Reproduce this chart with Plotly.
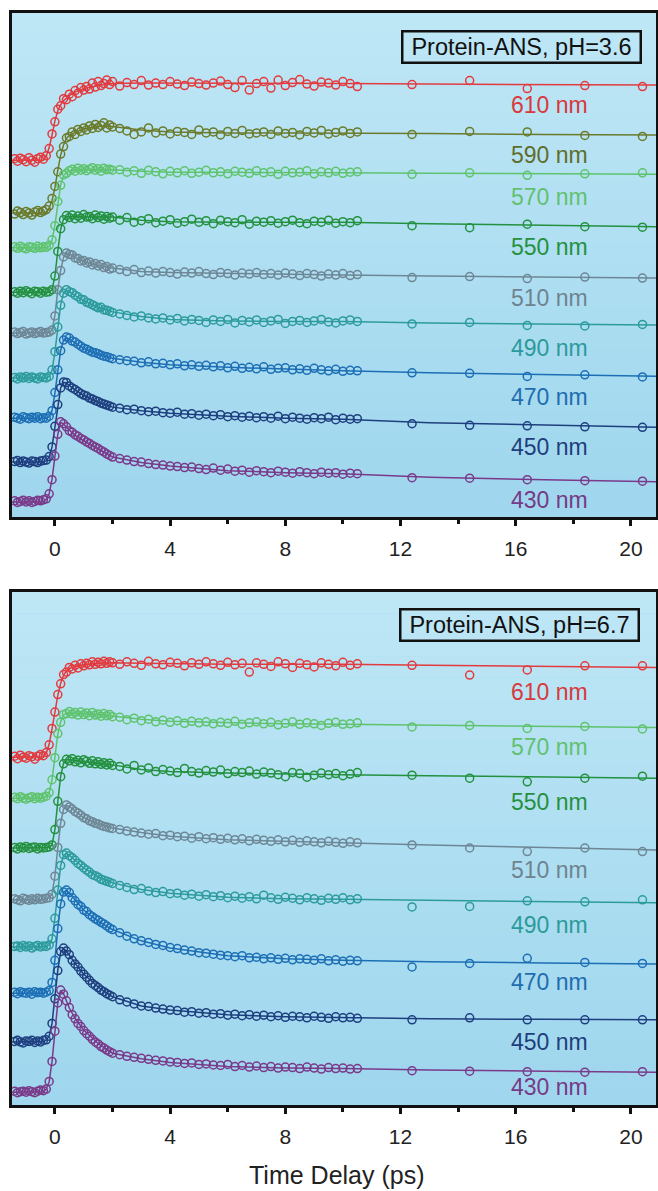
import plotly.graph_objects as go

# ---------------- data ----------------
TIME = [-1.4, -1.3, -1.2, -1.1, -1.0, -0.9, -0.8, -0.7, -0.6, -0.5, -0.4,
        -0.3, -0.2, -0.1, 0.0, 0.1, 0.2, 0.3, 0.4, 0.5, 0.6, 0.7, 0.8, 0.9, 1.0,
        1.1, 1.2, 1.3, 1.4, 1.5, 1.6, 1.7, 1.8, 1.9, 2.0,
        2.25, 2.5, 2.75, 3.0, 3.25, 3.5, 3.75, 4.0, 4.25, 4.5, 4.75, 5.0, 5.25,
        5.5, 5.75, 6.0, 6.25, 6.5, 6.75, 7.0, 7.25, 7.5, 7.75, 8.0, 8.25, 8.5,
        8.75, 9.0, 9.25, 9.5, 9.75, 10.0, 10.25, 10.5,
        12.4, 14.4, 16.4, 18.4, 20.4]

FIT_TIME = [-1.5, -0.4, -0.3, -0.2, -0.1, 0.0, 0.1, 0.2, 0.3, 0.4, 0.5, 0.7,
            1.0, 1.5, 2.0, 3.0, 4.0, 6.0, 8.0, 10.0, 13.0, 17.0, 21.0]

X_TICKS = [0, 4, 8, 12, 16, 20]
X_MINOR = [2, 6, 10, 14, 18]

TOP_LABELS = ["610 nm", "590 nm", "570 nm", "550 nm", "510 nm", "490 nm", "470 nm", "450 nm", "430 nm"]
BOT_LABELS = ["610 nm", "570 nm", "550 nm", "510 nm", "490 nm", "470 nm", "450 nm", "430 nm"]

TOP_OFFSETS = [70.8, 60.3, 53.4, 44.6, 36.5, 27.6, 19.6, 10.9, 3.0]
BOT_OFFSETS = [67.8, 59.8, 50.1, 40.0, 30.8, 21.8, 12.3, 2.5]

# ---- pH 3.6 measured transients (signal above baseline) ----
T610 = [0.3, -0.2, 0.4, 0.1, -0.3, 0.5, 0.0, -0.4, 0.3, 0.6, 0.2,
        0.9, 2.3, 5.2, 7.6, 10.1, 10.8, 12.2, 12.0, 13.1, 12.6, 13.8, 13.3, 14.4, 13.9, 14.6, 14.1, 15.3, 14.5, 15.6, 14.8, 15.2, 15.9, 15.0, 15.6,
        14.7, 15.4, 15.0, 15.8, 14.9, 15.3, 15.0, 15.6, 15.1, 14.8, 15.5, 15.2, 14.9, 15.3, 15.7, 15.0, 14.4, 15.8, 13.9, 15.2, 15.6, 14.3, 15.9, 14.8, 15.4, 16.0, 15.1, 14.7, 15.5, 15.3, 14.9, 15.6, 15.2, 14.6,
        15.0, 15.8, 14.2, 14.8, 14.6]
T590 = [-0.2, 0.4, 0.1, -0.3, 0.3, 0.0, -0.4, 0.2, 0.5, 0.1, 0.4,
        0.7, 1.4, 2.9, 5.3, 8.2, 11.7, 13.2, 14.9, 15.2, 16.1, 15.6, 16.6, 16.2, 16.9, 16.5, 17.3, 16.8, 17.6, 17.0, 17.4, 17.9, 16.9, 17.5, 17.1,
        16.8, 16.3, 15.6, 16.1, 16.9, 15.9, 16.3, 15.7, 16.2, 16.0, 15.6, 16.5, 15.9, 16.1, 15.5, 16.2, 15.8, 16.4, 15.7, 15.9, 16.1, 15.6, 16.3, 15.8, 16.0, 15.5, 16.2, 15.9, 16.4, 15.7, 16.0, 16.3, 15.8, 16.1,
        15.6, 16.2, 16.1, 15.4, 15.2]
T570 = [0.2, -0.1, 0.3, 0.0, -0.2, 0.2, 0.1, -0.1, 0.3, 0.0, 0.2,
        0.1, 0.5, 1.6, 4.4, 9.2, 12.4, 14.5, 14.8, 15.3, 15.6, 15.2, 15.8, 15.4, 15.7, 15.3, 15.6, 15.9, 15.4, 15.7, 15.2, 15.8, 15.5, 15.6, 15.4,
        15.5, 15.0, 15.3, 14.8, 15.4, 15.1, 14.7, 15.2, 14.9, 15.3, 14.8, 15.0, 15.4, 14.9, 15.1, 14.7, 15.2, 15.0, 14.8, 15.3, 14.9, 15.1, 14.6, 15.2, 14.9, 15.0, 15.3, 14.7, 15.1, 14.9, 15.2, 14.8, 15.0, 15.1,
        14.6, 14.9, 14.4, 14.7, 14.9]
T550 = [0.1, -0.2, 0.2, -0.1, 0.3, 0.0, -0.3, 0.2, 0.1, -0.2, 0.2,
        0.0, 0.1, 0.5, 3.2, 8.1, 12.6, 14.4, 15.2, 14.8, 15.3, 14.6, 15.1, 14.7, 15.4, 14.9, 15.0, 14.6, 15.3, 14.8, 15.1, 14.5, 15.0, 14.7, 14.9,
        14.3, 14.8, 13.9, 14.2, 14.6, 13.8, 14.1, 14.4, 13.7, 14.0, 14.5, 13.9, 14.2, 13.6, 14.3, 14.0, 13.8, 14.4, 13.5, 14.1, 13.9, 14.2, 13.7, 14.0, 14.3, 13.8, 13.6, 14.1, 13.9, 14.3, 13.7, 14.0, 13.8, 14.2,
        13.2, 12.8, 13.5, 13.0, 12.9]
T510 = [0.2, -0.1, 0.1, 0.3, -0.2, 0.0, 0.2, -0.1, 0.1, 0.3, 0.0,
        0.1, 0.2, 0.6, 3.4, 8.6, 12.4, 15.1, 15.9, 15.6, 15.5, 14.9, 14.8, 14.3, 14.4, 13.9, 14.1, 13.5, 13.8, 13.3, 13.6, 13.0, 13.2, 12.7, 12.9,
        12.6, 12.2, 12.6, 12.0, 12.3, 11.9, 12.2, 12.0, 11.7, 12.1, 11.9, 12.2, 11.8, 11.6, 12.0, 11.8, 11.5, 11.9, 11.7, 12.0, 11.6, 11.8, 11.5, 11.9, 11.7, 11.4, 11.8, 11.6, 11.3, 11.7, 11.5, 11.8, 11.4, 11.6,
        11.0, 11.2, 10.8, 11.1, 10.9]
T490 = [0.1, -0.2, 0.2, 0.0, 0.3, -0.1, 0.2, 0.0, -0.2, 0.2, 0.1,
        0.0, 0.3, 1.6, 5.2, 10.1, 14.4, 16.8, 17.5, 17.1, 16.9, 16.4, 16.1, 15.6, 15.5, 15.0, 14.8, 14.5, 14.2, 13.9, 14.0, 13.5, 13.4, 13.2, 13.0,
        12.7, 12.4, 12.1, 12.3, 11.9, 11.7, 11.9, 11.5, 11.8, 11.3, 11.6, 11.4, 11.0, 11.5, 11.2, 11.6, 10.9, 11.4, 11.1, 11.5, 11.0, 11.3, 11.6, 10.8, 11.2, 11.4, 11.0, 11.3, 11.6, 11.1, 10.9, 11.3, 11.5, 11.2,
        10.7, 11.0, 10.4, 10.3, 10.6]
T470 = [0.2, 0.0, -0.2, 0.3, 0.1, -0.1, 0.2, 0.0, 0.3, -0.1, 0.1,
        0.0, 0.4, 1.5, 5.1, 9.6, 13.4, 15.5, 16.1, 15.9, 15.3, 15.1, 14.7, 14.3, 13.9, 13.7, 13.4, 13.1, 13.0, 12.8, 12.5, 12.3, 12.2, 12.0, 11.8,
        11.6, 11.4, 11.3, 11.0, 11.2, 10.8, 10.9, 10.6, 10.8, 10.4, 10.6, 10.3, 10.5, 10.2, 10.4, 10.0, 10.3, 9.9, 10.1, 9.8, 10.2, 9.7, 9.9, 10.0, 9.6, 9.8, 9.5, 9.9, 9.6, 9.4, 9.7, 9.3, 9.5, 9.4,
        9.0, 8.9, 8.3, 8.6, 8.2]
T450 = [0.1, 0.3, -0.1, 0.2, 0.0, -0.2, 0.2, 0.1, -0.1, 0.2, 0.3,
        0.4, 1.1, 3.0, 7.1, 11.4, 14.7, 15.9, 15.8, 15.1, 14.7, 14.4, 14.0, 13.6, 13.3, 13.1, 12.7, 12.5, 12.2, 12.0, 11.7, 11.5, 11.3, 11.1, 10.9,
        10.7, 10.4, 10.5, 10.2, 10.0, 10.1, 9.8, 9.7, 9.9, 9.5, 9.6, 9.3, 9.5, 9.2, 9.4, 9.0, 9.2, 8.9, 9.1, 8.8, 9.0, 8.7, 9.1, 8.6, 8.9, 8.7, 8.5, 8.8, 8.6, 8.9, 8.4, 8.7, 8.5, 8.6,
        7.6, 7.3, 7.2, 7.0, 6.9]
T430 = [0.2, -0.1, 0.1, 0.3, 0.0, 0.2, -0.1, 0.1, 0.3, 0.2, 0.4,
        0.6, 1.6, 4.4, 9.1, 13.4, 15.9, 15.5, 14.9, 14.1, 13.8, 13.3, 13.0, 12.6, 12.3, 11.9, 11.6, 11.2, 10.9, 10.6, 10.2, 9.9, 9.5, 9.2, 8.9,
        8.6, 8.3, 8.0, 7.9, 7.6, 7.4, 7.3, 7.1, 7.0, 6.8, 6.9, 6.6, 6.4, 6.7, 6.3, 6.5, 6.1, 6.3, 5.9, 6.2, 6.0, 5.8, 6.1, 5.9, 5.7, 6.0, 5.8, 5.6, 5.9, 5.7, 5.8, 5.5, 5.7, 5.6,
        4.8, 4.7, 4.4, 4.2, 4.1]

# ---- pH 6.7 measured transients ----
B610 = [0.2, -0.3, 0.4, 0.0, -0.2, 0.3, 0.1, -0.4, 0.2, 0.5, 0.3,
        0.9, 2.4, 5.6, 8.8, 12.2, 14.3, 16.1, 16.6, 17.5, 17.2, 17.9, 17.4, 18.2, 17.8, 18.3, 18.0, 18.6, 18.1, 18.5, 18.2, 18.7, 18.3, 18.6, 18.4,
        18.1, 18.6, 18.3, 17.9, 18.7, 18.2, 18.0, 18.5, 18.3, 17.8, 18.4, 18.1, 18.6, 18.2, 17.9, 18.5, 18.0, 18.3, 16.6, 18.4, 18.1, 17.7, 18.6, 18.2, 17.5, 18.3, 18.0, 17.6, 18.4, 18.1, 17.8, 18.5, 17.9, 18.2,
        17.9, 16.0, 17.0, 17.8, 17.8]
B570 = [0.2, -0.1, 0.3, 0.0, -0.2, 0.1, 0.3, -0.1, 0.2, 0.0, 0.2,
        0.4, 1.1, 3.6, 7.9, 12.6, 14.8, 16.3, 16.5, 16.9, 16.4, 16.7, 16.2, 16.8, 16.3, 16.6, 16.1, 16.7, 16.2, 16.4, 16.0, 16.5, 16.1, 16.3, 15.9,
        15.8, 15.3, 15.6, 15.1, 15.4, 14.9, 15.2, 14.8, 15.1, 14.6, 15.0, 14.7, 14.9, 14.5, 14.8, 14.6, 15.0, 14.4, 14.7, 14.9, 14.5, 14.8, 14.3, 14.6, 14.9, 14.4, 14.7, 14.5, 14.2, 14.6, 14.8, 14.4, 14.5, 14.7,
        13.9, 14.2, 13.6, 14.0, 13.5]
B550 = [0.1, -0.2, 0.2, 0.0, 0.3, -0.1, 0.1, 0.2, -0.2, 0.1, 0.0,
        0.1, 0.2, 0.6, 3.6, 9.1, 13.9, 16.4, 17.3, 17.0, 17.4, 16.8, 17.1, 16.6, 17.2, 16.9, 16.5, 17.0, 16.4, 16.8, 16.3, 16.6, 16.2, 16.5, 16.1,
        15.9, 15.4, 16.1, 15.2, 15.6, 14.9, 15.3, 15.0, 14.7, 15.5, 14.9, 14.6, 15.1, 14.8, 15.2, 14.5, 14.9, 14.7, 15.0, 14.4, 14.8, 14.6, 14.3, 13.9, 14.7, 14.5, 13.8, 14.2, 14.6, 14.3, 14.5, 14.1, 14.4, 14.7,
        14.2, 13.6, 12.9, 13.6, 14.0]
B510 = [0.2, 0.0, -0.2, 0.3, 0.1, -0.1, 0.2, 0.0, 0.3, 0.1, 0.2,
        0.3, 0.4, 1.1, 4.6, 10.2, 14.9, 17.6, 18.5, 18.1, 17.7, 17.2, 16.9, 16.5, 16.0, 15.8, 15.4, 15.2, 14.9, 14.8, 14.5, 14.3, 14.2, 14.0, 13.9,
        13.7, 13.4, 13.2, 13.0, 12.8, 12.9, 12.5, 12.6, 12.3, 12.4, 12.0, 12.3, 11.9, 12.1, 11.8, 12.0, 11.7, 11.9, 11.5, 11.8, 11.6, 11.4, 11.7, 11.3, 11.6, 11.2, 11.5, 11.3, 11.1, 11.4, 11.2, 11.0, 11.3, 11.1,
        10.7, 10.1, 9.4, 10.1, 9.4]
B490 = [0.1, 0.2, -0.1, 0.3, 0.0, 0.2, -0.2, 0.1, 0.3, 0.0, 0.2,
        0.1, 0.4, 1.6, 5.6, 11.1, 15.9, 18.0, 18.3, 17.8, 17.4, 16.9, 16.3, 15.9, 15.4, 15.0, 14.6, 14.1, 13.9, 13.6, 13.2, 13.0, 12.8, 12.6, 12.4,
        12.0, 11.6, 11.2, 11.4, 10.9, 10.6, 10.8, 10.4, 10.5, 10.1, 10.3, 9.9, 10.2, 9.8, 10.0, 9.6, 9.9, 9.5, 9.8, 9.4, 10.1, 9.6, 9.3, 9.7, 9.5, 9.2, 9.6, 9.4, 9.1, 9.5, 9.3, 9.6, 9.2, 9.4,
        7.8, 7.9, 9.0, 8.8, 9.2]
B470 = [0.2, -0.1, 0.3, 0.1, 0.0, 0.2, -0.2, 0.3, 0.1, 0.2, 0.0,
        0.2, 0.5, 2.1, 6.4, 12.6, 17.4, 19.7, 20.1, 19.6, 18.6, 18.0, 17.3, 16.9, 16.2, 15.9, 15.3, 14.9, 14.5, 14.2, 13.8, 13.5, 13.1, 12.7, 12.4,
        11.8, 11.1, 10.6, 10.2, 9.9, 9.5, 9.3, 8.9, 8.7, 8.4, 8.2, 7.9, 7.8, 7.6, 7.4, 7.3, 7.1, 7.3, 6.9, 7.0, 6.7, 6.9, 6.6, 6.8, 6.5, 6.7, 6.6, 6.4, 6.7, 6.3, 6.5, 6.2, 6.4, 6.3,
        5.1, 5.8, 6.8, 6.0, 5.8]
B450 = [0.1, 0.3, 0.0, -0.2, 0.2, 0.1, 0.3, -0.1, 0.2, 0.0, 0.3,
        0.4, 1.1, 3.6, 8.4, 13.9, 17.6, 18.3, 17.7, 17.0, 15.9, 15.2, 14.6, 13.8, 13.2, 12.6, 12.0, 11.4, 11.0, 10.6, 10.1, 9.8, 9.4, 9.1, 8.8,
        8.2, 7.8, 7.4, 7.0, 6.9, 6.6, 6.4, 6.2, 6.1, 5.8, 5.9, 5.6, 5.7, 5.4, 5.5, 5.2, 5.4, 5.1, 5.3, 5.0, 5.2, 4.9, 5.1, 4.8, 5.0, 4.9, 4.7, 5.0, 4.8, 4.6, 4.9, 4.7, 4.8, 4.6,
        4.3, 4.7, 4.3, 4.3, 4.3]
B430 = [0.2, -0.1, 0.1, 0.2, 0.0, 0.3, 0.1, -0.1, 0.2, 0.4, 0.3,
        0.6, 2.1, 6.0, 11.9, 17.4, 19.9, 19.1, 17.8, 16.5, 15.1, 14.3, 13.4, 12.8, 12.0, 11.4, 10.9, 10.3, 9.8, 9.4, 8.9, 8.6, 8.2, 7.9, 7.6,
        7.3, 7.0, 6.8, 6.6, 6.4, 6.2, 6.1, 5.9, 5.8, 5.6, 5.7, 5.4, 5.5, 5.3, 5.2, 5.4, 5.0, 5.2, 4.9, 5.1, 4.8, 5.0, 4.7, 4.9, 4.8, 4.6, 4.9, 4.7, 4.5, 4.8, 4.6, 4.7, 4.5, 4.6,
        4.2, 4.1, 4.0, 3.9, 4.0]

# ---- fitted curves (on FIT_TIME) ----
FIT_T610 = [0, 0, 0.8, 2.5, 5.0, 7.8, 9.8, 11.0, 11.8, 12.4, 12.8, 13.5, 14.2, 14.8, 15.2, 15.3, 15.3, 15.3, 15.2, 15.2, 15.1, 15.0, 14.9]
FIT_T590 = [0, 0, 0.2, 1.0, 2.5, 5.0, 8.5, 11.5, 13.5, 14.8, 15.4, 16.0, 16.7, 17.2, 17.2, 16.5, 16.1, 15.9, 15.9, 15.9, 15.8, 15.6, 15.5]
FIT_T570 = [0, 0, 0, 0.3, 1.5, 4.5, 9.0, 12.5, 14.3, 15.0, 15.3, 15.5, 15.5, 15.5, 15.5, 15.2, 15.0, 15.0, 15.0, 14.9, 14.8, 14.7, 14.6]
FIT_T550 = [0, 0, 0, 0, 0.5, 3.2, 8.2, 12.5, 14.5, 15.0, 15.0, 14.9, 14.9, 14.9, 14.9, 14.3, 14.0, 13.9, 13.9, 13.9, 13.6, 13.3, 13.0]
FIT_T510 = [0, 0, 0, 0.1, 0.6, 3.5, 8.5, 12.5, 15.0, 15.9, 15.7, 15.0, 14.2, 13.4, 12.9, 12.2, 12.0, 11.8, 11.6, 11.5, 11.3, 11.1, 10.9]
FIT_T490 = [0, 0, 0, 0.3, 1.5, 5.1, 10.0, 14.5, 16.9, 17.4, 17.1, 16.3, 15.3, 14.0, 13.1, 12.2, 11.6, 11.3, 11.2, 11.2, 10.9, 10.7, 10.5]
FIT_T470 = [0, 0, 0, 0.3, 1.5, 5.0, 9.5, 13.5, 15.5, 16.0, 15.7, 14.9, 13.8, 12.7, 11.9, 11.1, 10.6, 10.1, 9.7, 9.4, 9.0, 8.6, 8.3]
FIT_T450 = [0, 0, 0.3, 1.0, 3.0, 7.0, 11.4, 14.7, 15.8, 15.7, 15.2, 14.3, 13.2, 11.9, 10.9, 10.2, 9.7, 9.1, 8.7, 8.5, 7.8, 7.3, 6.9]
FIT_T430 = [0, 0, 0.5, 1.6, 4.5, 9.0, 13.4, 15.8, 15.5, 14.8, 14.2, 13.2, 12.1, 10.5, 8.9, 7.8, 7.1, 6.2, 5.8, 5.6, 4.9, 4.4, 4.0]

FIT_B610 = [0, 0.1, 0.8, 2.5, 5.5, 8.9, 12.0, 14.4, 16.0, 16.8, 17.3, 17.7, 18.0, 18.3, 18.4, 18.3, 18.2, 18.1, 18.1, 18.1, 17.9, 17.7, 17.5]
FIT_B570 = [0, 0, 0.3, 1.1, 3.6, 8.0, 12.5, 14.9, 16.2, 16.6, 16.6, 16.6, 16.5, 16.3, 16.0, 15.4, 15.0, 14.7, 14.5, 14.4, 14.2, 14.0, 13.8]
FIT_B550 = [0, 0, 0, 0.1, 0.6, 3.6, 9.0, 14.0, 16.5, 17.2, 17.2, 17.0, 16.8, 16.5, 16.2, 15.3, 14.9, 14.6, 14.4, 14.3, 14.1, 13.9, 13.6]
FIT_B510 = [0, 0, 0.2, 0.4, 1.1, 4.6, 10.1, 15.0, 17.7, 18.4, 18.2, 17.3, 16.0, 14.8, 14.0, 13.1, 12.4, 11.7, 11.4, 11.2, 10.7, 10.2, 9.7]
FIT_B490 = [0, 0, 0.1, 0.4, 1.6, 5.6, 11.0, 15.9, 17.9, 18.2, 17.9, 16.9, 15.4, 13.7, 12.5, 11.2, 10.5, 9.7, 9.4, 9.3, 9.1, 8.8, 8.6]
FIT_B470 = [0, 0, 0.2, 0.5, 2.1, 6.5, 12.6, 17.4, 19.7, 20.0, 19.5, 18.1, 16.2, 14.0, 12.4, 10.2, 8.8, 7.3, 6.7, 6.4, 6.1, 5.9, 5.7]
FIT_B450 = [0, 0.1, 0.4, 1.1, 3.6, 8.5, 14.0, 17.5, 18.2, 17.7, 16.9, 15.3, 13.2, 10.7, 8.8, 7.0, 6.2, 5.3, 4.9, 4.7, 4.5, 4.4, 4.3]
FIT_B430 = [0, 0.1, 0.6, 2.0, 6.0, 12.0, 17.4, 19.8, 19.2, 17.8, 16.4, 14.4, 12.1, 9.5, 7.6, 6.5, 5.8, 5.0, 4.7, 4.6, 4.3, 4.1, 3.9]

TOP_DATA = [T610, T590, T570, T550, T510, T490, T470, T450, T430]
TOP_FITS = [FIT_T610, FIT_T590, FIT_T570, FIT_T550, FIT_T510, FIT_T490, FIT_T470, FIT_T450, FIT_T430]
BOT_DATA = [B610, B570, B550, B510, B490, B470, B450, B430]
BOT_FITS = [FIT_B610, FIT_B570, FIT_B550, FIT_B510, FIT_B490, FIT_B470, FIT_B450, FIT_B430]

# ---------------- styles ----------------
COLORS = {"610 nm": "#e23b3f", "590 nm": "#6b7b2c", "570 nm": "#5fc36e", "550 nm": "#23913f",
          "510 nm": "#6e8796", "490 nm": "#2c9b9c", "470 nm": "#1d6fb5", "450 nm": "#1e3f7f",
          "430 nm": "#7a3a8a"}
LABEL_COLORS = {"610 nm": "#d9383c", "590 nm": "#5f6e2c", "570 nm": "#62c070", "550 nm": "#26903f",
                "510 nm": "#6d8490", "490 nm": "#2c9a9a", "470 nm": "#1f6db0", "450 nm": "#1e3f7c",
                "430 nm": "#763a86"}
TOP_LABEL_Y = [81.7, 71.8, 63.5, 53.6, 43.5, 33.5, 23.8, 13.9, 3.4]
BOT_LABEL_Y = [80.5, 69.8, 59.1, 45.8, 35.1, 24.0, 12.3, 3.5]

W, H = 658, 1191
FONT = "Liberation Sans, Arial, sans-serif"

fig = go.Figure()

panels = [
    ("x", "y", TOP_LABELS, TOP_DATA, TOP_FITS, TOP_OFFSETS, TOP_LABEL_Y),
    ("x2", "y2", BOT_LABELS, BOT_DATA, BOT_FITS, BOT_OFFSETS, BOT_LABEL_Y),
]

annotations = []
for xa, ya, names, datas, fits, offs, laby in panels:
    for name, d, f, off, ly in zip(names, datas, fits, offs, laby):
        c = COLORS[name]
        fig.add_trace(go.Scatter(x=FIT_TIME, y=[v + off for v in f], mode="lines",
                                 line=dict(color=c, width=1.5), xaxis=xa, yaxis=ya,
                                 showlegend=False, hoverinfo="skip"))
        fig.add_trace(go.Scatter(x=TIME, y=[v + off for v in d], mode="markers",
                                 marker=dict(symbol="circle-open", size=8, color=c,
                                             line=dict(width=1.5, color=c)),
                                 xaxis=xa, yaxis=ya, showlegend=False, name=name))
        annotations.append(dict(x=15.75, y=ly, xref=xa, yref=ya, text=name, showarrow=False,
                                xanchor="left", yanchor="middle",
                                font=dict(family=FONT, size=23, color=LABEL_COLORS[name])))

# boxed titles
for txt, xr, yt in [("Protein-ANS, pH=3.6", 642, 30), ("Protein-ANS, pH=6.7", 640, 608)]:
    annotations.append(dict(x=xr / W, y=1 - yt / H, xref="paper", yref="paper", text=txt,
                            showarrow=False, xanchor="right", yanchor="top",
                            width=234, height=27, align="center",
                            bordercolor="#111111", borderwidth=2.5, borderpad=1,
                            font=dict(family=FONT, size=23.5, color="#111111")))
annotations.append(dict(x=337 / W, y=1 - 1175 / H, xref="paper", yref="paper",
                        text="Time Delay (ps)", showarrow=False, xanchor="center", yanchor="middle",
                        font=dict(family=FONT, size=25, color="#222222")))

# soft vertical gradient of the panel background
shapes = []
N = 24
for ya in ["y", "y2"]:
    for i in range(N):
        f = i / (N - 1)
        r = int(190 - (190 - 160) * f)
        g = int(231 - (231 - 215) * f)
        b = int(246 - (246 - 238) * f)
        shapes.append(dict(type="rect", xref="x domain" if ya == "y" else "x2 domain",
                           yref=ya + " domain", x0=0, x1=1, y0=1 - (i + 1) / N, y1=1 - i / N,
                           fillcolor=f"rgb({r},{g},{b})", line=dict(width=0), layer="below"))

xcommon = dict(domain=[12 / W, 656 / W], range=[-1.49, 20.87], tickvals=X_TICKS,
               ticks="outside", ticklen=6, tickwidth=3, tickcolor="#111111",
               showline=True, linewidth=3, linecolor="#111111", mirror=True,
               showgrid=False, zeroline=False, ticklabelstandoff=5,
               tickfont=dict(family=FONT, size=21, color="#222222"),
               minor=dict(tickvals=X_MINOR, ticks="outside", ticklen=4, tickwidth=2.5,
                          tickcolor="#111111"))
ycommon = dict(range=[0, 100], showticklabels=False, ticks="", showline=True, linewidth=3,
               linecolor="#111111", mirror=True, showgrid=False, zeroline=False)

fig.update_layout(
    width=W, height=H, margin=dict(l=0, r=0, t=0, b=0),
    paper_bgcolor="white", plot_bgcolor="#a9dcf0",
    xaxis=dict(anchor="y", **xcommon),
    xaxis2=dict(anchor="y2", **xcommon),
    yaxis=dict(anchor="x", domain=[1 - 517 / H, 1 - 13 / H], **ycommon),
    yaxis2=dict(anchor="x2", domain=[1 - 1105 / H, 1 - 592 / H], **ycommon),
    annotations=annotations, shapes=shapes,
)

fig.write_html("out.html")
